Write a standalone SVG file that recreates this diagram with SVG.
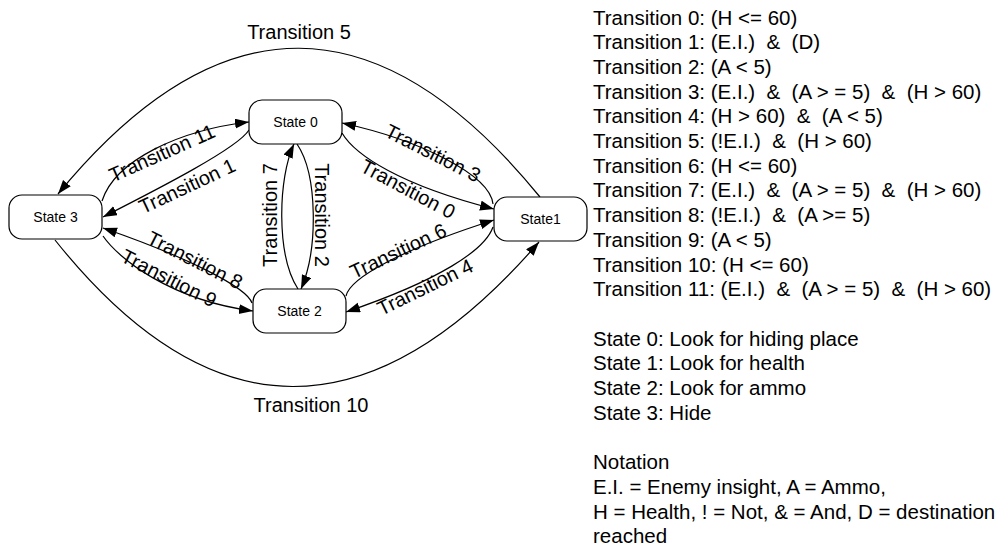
<svg xmlns="http://www.w3.org/2000/svg" width="1001" height="546" viewBox="0 0 1001 546">
  <style>
    .node rect { fill: #ffffff; stroke: #000000; stroke-width: 1.2; }
    .node text { font-family: "Liberation Sans", Arial, sans-serif; font-size: 14px; fill: #000000; text-anchor: middle; }
    .edge { fill: none; stroke: #000000; stroke-width: 1.2; marker-end: url(#arrow); }
    .elabel { font-family: "Liberation Sans", Arial, sans-serif; font-size: 20px; fill: #000000; text-anchor: middle; }
    .legend text { font-family: "Liberation Sans", Arial, sans-serif; font-size: 20.5px; fill: #000000; white-space: pre; }
  </style>
  <defs>
    <marker id="arrow" markerUnits="userSpaceOnUse" markerWidth="15" markerHeight="11" refX="14" refY="5" orient="auto">
      <path d="M0,0 L14,5 L0,10 z" fill="#000000"/>
    </marker>
  </defs>

  <rect x="0" y="0" width="1001" height="546" fill="#ffffff"/>

  <!-- transitions -->
  <g id="connectors">
    <path id="t5" class="edge" d="M540,197 Q299,-99 58,194"/>
    <path id="t10" class="edge" d="M55,240 Q288,532 539,242"/>
    <path id="t11" class="edge" d="M102,201 C115,160 180,130 249,122"/>
    <path id="t1" class="edge" d="M249,130 C238,148 160,188 103,217"/>
    <path id="t8" class="edge" d="M252,303 C247,288 190,258 103,228"/>
    <path id="t9" class="edge" d="M103,236 C118,258 170,300 253,311"/>
    <path id="t3" class="edge" d="M493,204 C490,175 420,140 342,123"/>
    <path id="t0" class="edge" d="M342,133 C355,155 400,185 494,209"/>
    <path id="t6" class="edge" d="M346,296 C350,278 400,250 494,220"/>
    <path id="t4" class="edge" d="M493,227 C485,250 440,280 346,312"/>
    <path id="t7" class="edge" d="M298,289 C276,255 278,178 294,144"/>
    <path id="t2" class="edge" d="M297,144 C318,175 318,250 301,289"/>

    <text class="elabel" x="299" y="39">Transition 5</text>
    <text class="elabel" x="311" y="412">Transition 10</text>
    <text class="elabel" transform="translate(162,153) rotate(-24)" y="7">Transition 11</text>
    <text class="elabel" transform="translate(187,186) rotate(-25)" y="7">Transition 1</text>
    <text class="elabel" transform="translate(195,260) rotate(27)" y="7">Transition 8</text>
    <text class="elabel" transform="translate(169,278) rotate(27)" y="7">Transition 9</text>
    <text class="elabel" transform="translate(433,153) rotate(27)" y="7">Transition 3</text>
    <text class="elabel" transform="translate(408,189) rotate(28)" y="7">Transition 0</text>
    <text class="elabel" transform="translate(398,251) rotate(-25)" y="7">Transition 6</text>
    <text class="elabel" transform="translate(425,287) rotate(-26)" y="7">Transition 4</text>
    <text class="elabel" transform="translate(270,215) rotate(-90)" y="7">Transition 7</text>
    <text class="elabel" transform="translate(322,215) rotate(90)" y="7">Transition 2</text>
  </g>

  <!-- states -->
  <g id="state0" class="node">
    <rect x="249" y="100" width="93" height="44" rx="13" ry="13"/>
    <text x="295.5" y="127">State 0</text>
  </g>
  <g id="state1" class="node">
    <rect x="494" y="197" width="93" height="44" rx="13" ry="13"/>
    <text x="540.5" y="224">State1</text>
  </g>
  <g id="state2" class="node">
    <rect x="253" y="289" width="93" height="44" rx="13" ry="13"/>
    <text x="299.5" y="316">State 2</text>
  </g>
  <g id="state3" class="node">
    <rect x="9" y="195" width="93" height="44" rx="13" ry="13"/>
    <text x="55.5" y="222">State 3</text>
  </g>

  <!-- legend -->
  <g id="legend" class="legend">
    <text xml:space="preserve" x="593" y="24.5">Transition 0: (H &lt;= 60)</text>
    <text xml:space="preserve" x="593" y="49.2">Transition 1: (E.I.)  &amp;  (D)</text>
    <text xml:space="preserve" x="593" y="73.9">Transition 2: (A &lt; 5)</text>
    <text xml:space="preserve" x="593" y="98.6">Transition 3: (E.I.)  &amp;  (A &gt; = 5)  &amp;  (H &gt; 60)</text>
    <text xml:space="preserve" x="593" y="123.3">Transition 4: (H &gt; 60)  &amp;  (A &lt; 5)</text>
    <text xml:space="preserve" x="593" y="148">Transition 5: (!E.I.)  &amp;  (H &gt; 60)</text>
    <text xml:space="preserve" x="593" y="172.7">Transition 6: (H &lt;= 60)</text>
    <text xml:space="preserve" x="593" y="197.4">Transition 7: (E.I.)  &amp;  (A &gt; = 5)  &amp;  (H &gt; 60)</text>
    <text xml:space="preserve" x="593" y="222.1">Transition 8: (!E.I.)  &amp;  (A &gt;= 5)</text>
    <text xml:space="preserve" x="593" y="246.8">Transition 9: (A &lt; 5)</text>
    <text xml:space="preserve" x="593" y="271.5">Transition 10: (H &lt;= 60)</text>
    <text xml:space="preserve" x="593" y="296.2">Transition 11: (E.I.)  &amp;  (A &gt; = 5)  &amp;  (H &gt; 60)</text>
    <text xml:space="preserve" x="593" y="345.6">State 0: Look for hiding place</text>
    <text xml:space="preserve" x="593" y="370.3">State 1: Look for health</text>
    <text xml:space="preserve" x="593" y="395">State 2: Look for ammo</text>
    <text xml:space="preserve" x="593" y="419.7">State 3: Hide</text>
    <text xml:space="preserve" x="593" y="469.1">Notation</text>
    <text xml:space="preserve" x="593" y="493.8">E.I. = Enemy insight, A = Ammo,</text>
    <text xml:space="preserve" x="593" y="518.5">H = Health, ! = Not, &amp; = And, D = destination</text>
    <text xml:space="preserve" x="593" y="543.2">reached</text>
  </g>
</svg>
